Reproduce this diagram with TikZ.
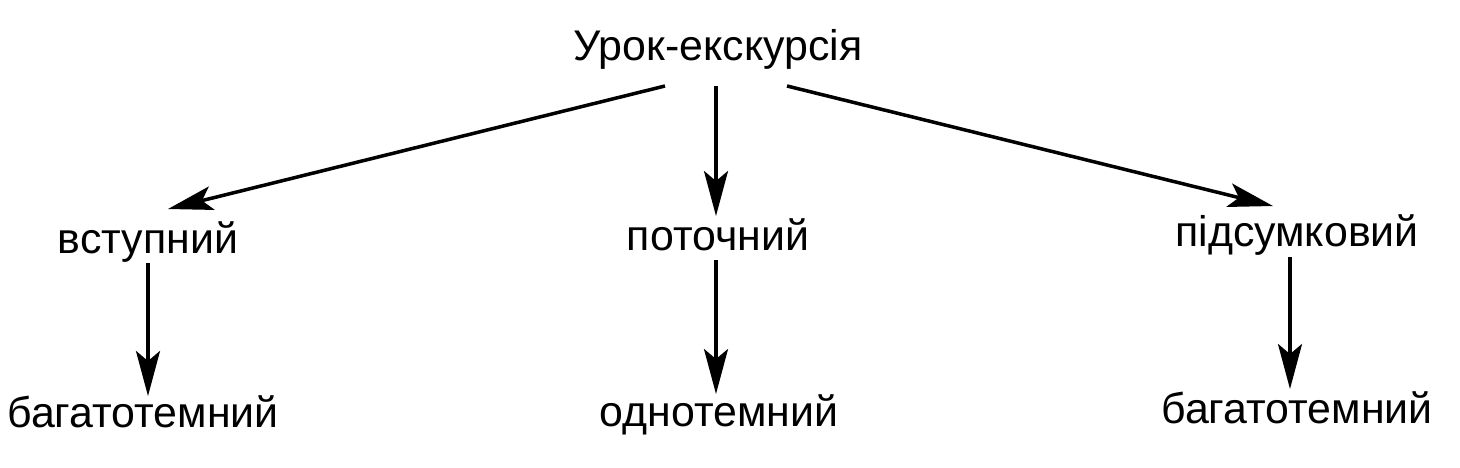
\documentclass[tikz,border=0pt]{standalone}
\usepackage{fontspec}
\setmainfont{Liberation Sans}
\usetikzlibrary{arrows.meta,calc}
\begin{document}
\begin{tikzpicture}[every node/.style={font=\fontsize{12.2}{14}\selectfont}]
\tikzset{lbl/.style={inner sep=0pt,text height=1.9ex,text depth=0.5ex},
  arr/.style={-{Stealth[length=4.5mm,width=2.4mm,inset=1mm]},line width=1pt}}
\useasboundingbox (0,0) rectangle (14.6,4.67);
\node[lbl] (top) at (7.18,4.19) {Урок-екскурсія};
\node[lbl] (vstup) at (1.48,2.27) {вступний};
\node[lbl] (potoch) at (7.18,2.30) {поточний};
\node[lbl] (pidsum) at (12.97,2.33) {підсумковий};
\node[lbl] (bag1) at (1.43,0.53) {багатотемний};
\node[lbl] (odno) at (7.19,0.54) {однотемний};
\node[lbl] (bag2) at (12.97,0.57) {багатотемний};
\draw[arr] ($(top.south)+(-0.53,-0.15)$) -- ($(vstup.north)+(0.2,0.08)$);
\draw[arr] ($(top.south)+(-0.02,-0.15)$) -- ($(potoch.north)+(-0.02,-0.02)$);
\draw[arr] ($(top.south)+(0.69,-0.15)$) -- ($(pidsum.north)+(-0.24,0.05)$);
\draw[arr] (vstup.south) -- ($(vstup.south |- bag1.north)+(0,-0.05)$);
\draw[arr] ($(potoch.south)+(-0.02,0)$) -- ($(potoch.south |- odno.north)+(-0.02,-0.04)$);
\draw[arr] ($(pidsum.south)+(-0.07,0)$) -- ($(pidsum.south |- bag2.north)+(-0.07,-0.02)$);
\end{tikzpicture}
\end{document}
